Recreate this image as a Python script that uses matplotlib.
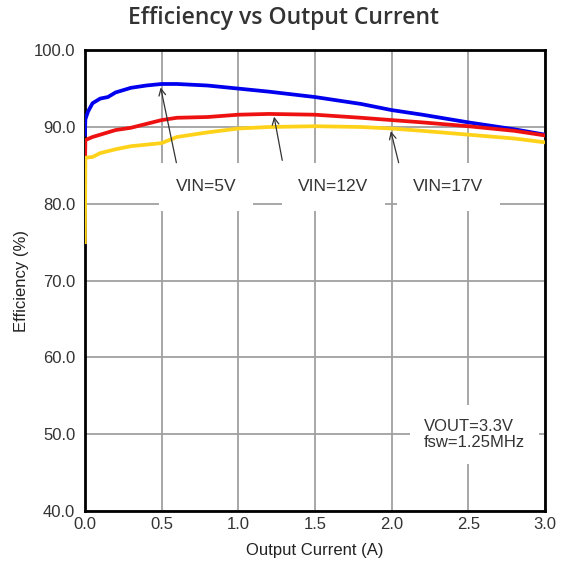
import matplotlib
matplotlib.use("Agg")
import matplotlib.pyplot as plt

x_blue = [0.0, 0.003, 0.02, 0.05, 0.1, 0.15, 0.2, 0.3, 0.4, 0.5, 0.6, 0.8, 1.0, 1.2, 1.5, 1.8, 2.0, 2.2, 2.5, 2.8, 3.0]
y_blue = [89.0, 91.0, 92.0, 93.1, 93.7, 93.9, 94.5, 95.1, 95.4, 95.6, 95.6, 95.4, 95.0, 94.6, 93.9, 93.0, 92.2, 91.6, 90.6, 89.7, 89.0]

x_red = [0.0, 0.003, 0.05, 0.1, 0.2, 0.3, 0.4, 0.5, 0.6, 0.8, 1.0, 1.2, 1.5, 1.8, 2.0, 2.2, 2.5, 2.8, 3.0]
y_red = [84.0, 88.3, 88.7, 89.0, 89.6, 89.9, 90.4, 90.9, 91.2, 91.3, 91.6, 91.7, 91.6, 91.2, 90.9, 90.6, 90.1, 89.5, 88.9]

x_yel = [0.0, 0.003, 0.05, 0.1, 0.2, 0.3, 0.4, 0.5, 0.6, 0.8, 1.0, 1.2, 1.5, 1.8, 2.0, 2.2, 2.5, 2.8, 3.0]
y_yel = [75.0, 86.0, 86.1, 86.6, 87.1, 87.5, 87.7, 87.9, 88.7, 89.3, 89.8, 90.0, 90.1, 90.0, 89.8, 89.5, 89.0, 88.5, 88.0]

labels = ["VIN=5V", "VIN=12V", "VIN=17V"]
label_pos = [(0.79, 82.2), (1.62, 82.2), (2.37, 82.2)]
arrow_tips = [(0.49, 95.5), (1.23, 91.7), (1.99, 89.8)]
arrow_tails = [(0.60, 85.0), (1.29, 85.3), (2.05, 85.0)]

fig = plt.figure(figsize=(5.66, 5.62), dpi=100)
ax = fig.add_axes([0.150, 0.0907, 0.813, 0.820])

ax.plot(x_blue, y_blue, color="#0000ee", lw=2.7, zorder=3)
ax.plot(x_red, y_red, color="#ee1111", lw=2.7, zorder=3)
ax.plot(x_yel, y_yel, color="#ffd21a", lw=2.7, zorder=3)

ax.set_xlim(0, 3.0)
ax.set_ylim(40, 100)
ax.set_xticks([0, 0.5, 1.0, 1.5, 2.0, 2.5, 3.0])
ax.set_yticks([40, 50, 60, 70, 80, 90, 100])
ax.set_xticklabels(["0.0", "0.5", "1.0", "1.5", "2.0", "2.5", "3.0"])
ax.set_yticklabels(["40.0", "50.0", "60.0", "70.0", "80.0", "90.0", "100.0"])
ax.grid(True, color="#a0a0a0", lw=1.3, zorder=0)
ax.tick_params(axis="x", length=0, labelsize=12, colors="#333333", pad=4)
ax.tick_params(axis="y", length=0, labelsize=12, colors="#333333", pad=7)
for lab in ax.get_xticklabels() + ax.get_yticklabels():
    lab.set_family(["Liberation Sans"])
for s in ax.spines.values():
    s.set_linewidth(2)
    s.set_color("black")

ax.set_xlabel("Output Current (A)", fontsize=12, family=["Liberation Sans"], color="#222222", labelpad=8)
ax.set_ylabel("Efficiency (%)", fontsize=12, family=["Liberation Sans"], color="#222222", labelpad=3.5)

for lab, pos in zip(labels, label_pos):
    ax.text(pos[0], pos[1], lab, ha="center", va="center", fontsize=12.5,
            family=["Liberation Sans"], color="#333333", zorder=4,
            bbox=dict(facecolor="white", edgecolor="none", pad=12))
for tip, tail in zip(arrow_tips, arrow_tails):
    ax.annotate("", xy=tip, xytext=tail,
                arrowprops=dict(arrowstyle="->", color="#333333", lw=0.9, mutation_scale=12),
                zorder=5)

ax.text(2.21, 50.0, "VOUT=3.3V\nfsw=1.25MHz", ha="left", va="center", fontsize=12,
        family=["Liberation Sans"], color="#333333", linespacing=1.1, zorder=4,
        bbox=dict(facecolor="white", edgecolor="none", pad=10))

fig.suptitle("Efficiency vs Output Current", x=0.5, y=0.99, fontsize=16.5,
             family=["Open Sans"], fontweight="semibold", color="#333333")

fig.savefig("out.png", dpi=100)
